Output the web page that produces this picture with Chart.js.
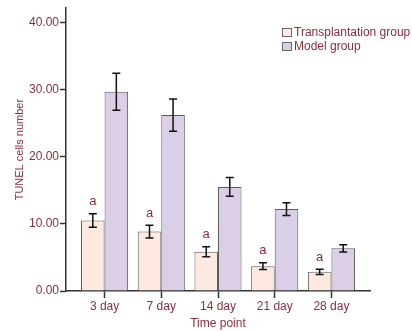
<!DOCTYPE html>
<html>
<head>
<meta charset="utf-8">
<script src="https://cdn.jsdelivr.net/npm/chart.js@4.4.1/dist/chart.umd.min.js"></script>
<style>
	html, body {margin:0;padding:0;background:#fff;}
	#wrap {width:412px;height:331px;}
</style>
</head>
<body>
<div id="wrap"><canvas id="chart" width="412" height="331"></canvas></div>
<script>
const categories = ["3 day","7 day","14 day","21 day","28 day"]
const transplantValues = [10.5, 8.85, 5.85, 3.7, 2.85]
const transplantErrors = [1.0, 0.95, 0.75, 0.5, 0.4]
const modelValues = [29.65, 26.2, 15.5, 12.2, 6.35]
const modelErrors = [2.75, 2.4, 1.4, 0.95, 0.55]
const markLabels = ["a","a","a","a","a"]
const yTicks = [0, 10, 20, 30, 40]

const textColor = "#8b2d3c"
const fontFamily = "'Liberation Sans', Arial, sans-serif"

const errorBars = {
	id: "errorBars",
	afterDatasetsDraw(chart) {
		const ctx = chart.ctx
		const y = chart.scales.y
		const errs = [transplantErrors, modelErrors]
		ctx.save()
		chart.data.datasets.forEach((ds, d) => {
			const meta = chart.getDatasetMeta(d)
			meta.data.forEach((bar, i) => {
				const v = ds.data[i].y
				const top = y.getPixelForValue(v + errs[d][i])
				const bot = y.getPixelForValue(v - errs[d][i])
				ctx.strokeStyle = "#111"
				ctx.lineWidth = 1.5
				ctx.beginPath()
				ctx.moveTo(bar.x, top); ctx.lineTo(bar.x, bot)
				ctx.moveTo(bar.x - 4, top); ctx.lineTo(bar.x + 4, top)
				ctx.moveTo(bar.x - 4, bot); ctx.lineTo(bar.x + 4, bot)
				ctx.stroke()
				if (d === 0) {
					ctx.fillStyle = textColor
					ctx.font = "13px " + fontFamily
					ctx.textAlign = "center"
					ctx.textBaseline = "middle"
					ctx.fillText(markLabels[i], bar.x, top - 12)
				}
			})
		})
		ctx.restore()
	}
}

const boxLegend = {
	id: "boxLegend",
	afterDraw(chart) {
		const ctx = chart.ctx
		ctx.save()
		ctx.font = "12px " + fontFamily
		ctx.textBaseline = "middle"
		ctx.textAlign = "left"
		chart.data.datasets.forEach((ds, d) => {
			const by = 28 + d * 14
			ctx.fillStyle = ds.backgroundColor
			ctx.fillRect(282, by, 10, 9)
			ctx.strokeStyle = "#666"
			ctx.lineWidth = 1
			ctx.strokeRect(282.5, by + 0.5, 9, 8)
			ctx.fillStyle = textColor
			ctx.fillText(ds.label, 294, by + 5)
		})
		ctx.restore()
	}
}

const ctx = document.getElementById("chart").getContext("2d")
new Chart(ctx, {
	type: "bar",
	data: {
		datasets: [
			{
				label: "Transplantation group",
				backgroundColor: "#fde9e0",
				borderColor: "#5c5c5c",
				borderWidth: 1,
				data: transplantValues.map((v, i) => ({x: i, y: v})),
			},
			{
				label: "Model group",
				backgroundColor: "#dacfe6",
				borderColor: "#5c5c5c",
				borderWidth: 1,
				data: modelValues.map((v, i) => ({x: i, y: v})),
			},
		],
	},
	options: {
		responsive: false,
		animation: false,
		categoryPercentage: 0.83,
		barPercentage: 1.0,
		layout: {padding: {left: 0, right: 42, top: 8, bottom: 0}},
		plugins: {legend: {display: false}, tooltip: {enabled: false}},
		scales: {
			x: {
				type: "linear",
				min: -0.68,
				max: 4.68,
				offset: false,
				afterBuildTicks: (scale) => { scale.ticks = categories.map((c, i) => ({value: i})) },
				afterFit: (scale) => { scale.height = 40 },
				grid: {display: true, offset: false, drawOnChartArea: false, tickLength: 7, tickColor: "#333", tickWidth: 1.5},
				border: {display: true, color: "#333", width: 1.5},
				ticks: {
					color: textColor, font: {family: fontFamily, size: 12}, padding: 1,
					autoSkip: false, maxRotation: 0,
					callback: (v) => categories[v],
				},
				title: {display: true, text: "Time point", color: textColor, font: {family: fontFamily, size: 12}, padding: {top: 3, bottom: 0}},
			},
			y: {
				min: 0,
				max: 42.1,
				afterBuildTicks: (scale) => { scale.ticks = yTicks.map(v => ({value: v})) },
				afterFit: (scale) => { scale.width = 66 },
				grid: {display: true, drawOnChartArea: false, tickLength: 6, tickColor: "#333", tickWidth: 1.5},
				border: {display: true, color: "#333", width: 1.5},
				ticks: {
					color: textColor, font: {family: fontFamily, size: 12}, padding: 1,
					callback: (v) => v.toFixed(2),
				},
				title: {display: true, text: "TUNEL cells number", color: textColor, font: {family: fontFamily, size: 11}, padding: {top: 13, bottom: 0}},
			},
		},
	},
	plugins: [errorBars, boxLegend],
})
</script>
</body>
</html>
